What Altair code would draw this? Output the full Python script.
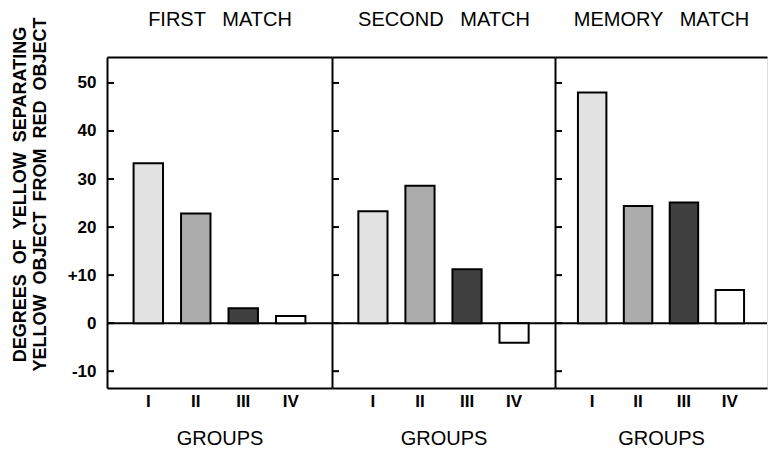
import altair as alt
import pandas as pd

# ---- data ----
panels = ["FIRST \u00a0 MATCH", "SECOND \u00a0 MATCH", "MEMORY \u00a0 MATCH"]
groups = ["I", "II", "III", "IV"]
first_match = [33.3, 22.8, 3.1, 1.5]
second_match = [23.3, 28.6, 11.2, -4.1]
memory_match = [48.0, 24.4, 25.1, 6.9]
y_ticks = [-10, 0, 10, 20, 30, 40, 50]
y_title = ["DEGREES \u00a0OF \u00a0YELLOW \u00a0SEPARATING",
           "YELLOW \u00a0OBJECT \u00a0FROM \u00a0RED \u00a0OBJECT"]
x_title = "GROUPS"

# ---- style ----
FONT = "Liberation Sans"
fills = ["#e2e2e2", "#acacac", "#404040", "#ffffff"]
Y_DOMAIN = [-13.5, 55.4]
H = 331
widths = [225, 223, 212]
outer = [0.56, 0.56, 0.5]


def panel(i, title, values):
    df = pd.DataFrame({"group": groups, "value": values})
    ticks = pd.DataFrame({"t": y_ticks})
    yscale = alt.Scale(domain=Y_DOMAIN, nice=False, zero=False)
    xscale = alt.Scale(domain=groups, paddingInner=0.38, paddingOuter=outer[i])
    if i == 0:
        yaxis = alt.Axis(
            values=y_ticks, title=y_title, ticks=False, grid=False,
            domain=True, domainColor="black", domainWidth=2,
            labelExpr="datum.value == 10 ? '+10' : (datum.value < 0 ? '-' + abs(datum.value) : '' + datum.value)",
            labelFont=FONT, labelFontSize=17, labelFontWeight="bold", labelColor="black",
            labelPadding=11,
            titleFont=FONT, titleFontSize=18, titleFontWeight="bold", titleColor="black",
            titleLineHeight=20, titlePadding=18, titleY=137,
        )
    else:
        yaxis = alt.Axis(
            values=y_ticks, title=None, ticks=False, grid=False, labels=False,
            domain=True, domainColor="black", domainWidth=2,
        )
    xaxis = alt.Axis(
        title=x_title, labelAngle=0, ticks=False, grid=False, orient="bottom",
        domain=True, domainColor="black", domainWidth=2,
        labelFont=FONT, labelFontSize=17, labelFontWeight="bold", labelColor="black",
        labelPadding=5,
        titleFont=FONT, titleFontSize=20, titleFontWeight="normal", titleColor="black",
        titlePadding=19,
    )
    top_axis = alt.Axis(
        title=title, orient="top", labels=False, ticks=False, grid=False,
        domain=True, domainColor="black", domainWidth=2,
        titleFont=FONT, titleFontSize=20, titleFontWeight="normal", titleColor="black",
        titlePadding=28,
    )
    bars = alt.Chart(df).mark_bar(stroke="black", strokeWidth=2).encode(
        x=alt.X("group:N", scale=xscale, sort=groups, axis=xaxis),
        y=alt.Y("value:Q", scale=yscale, axis=yaxis),
        fill=alt.Fill("group:N", scale=alt.Scale(domain=groups, range=fills), legend=None),
    )
    header = alt.Chart(df).mark_point(opacity=0).encode(
        x=alt.X("group:N", scale=xscale, sort=groups, axis=top_axis),
    )
    tick_rules = alt.Chart(ticks).mark_rule(color="black", strokeWidth=2).encode(
        y=alt.Y("t:Q", scale=yscale),
        x=alt.value(0), x2=alt.value(7),
    )
    zero = alt.Chart(ticks).transform_filter("datum.t == 0").mark_rule(
        color="black", strokeWidth=2).encode(y=alt.Y("t:Q", scale=yscale))
    return alt.layer(zero, tick_rules, bars, header).resolve_axis(x="independent").properties(
        width=widths[i], height=H,
    )


chart = alt.hconcat(
    panel(0, panels[0], first_match),
    panel(1, panels[1], second_match),
    panel(2, panels[2], memory_match),
    spacing=0,
    bounds="flush",
).properties(
    padding={"left": 2, "top": 0, "right": 0, "bottom": 0},
).configure_view(stroke=None).configure(background="white")

chart.save("out.html", embed_options={"renderer": "svg", "actions": False})
